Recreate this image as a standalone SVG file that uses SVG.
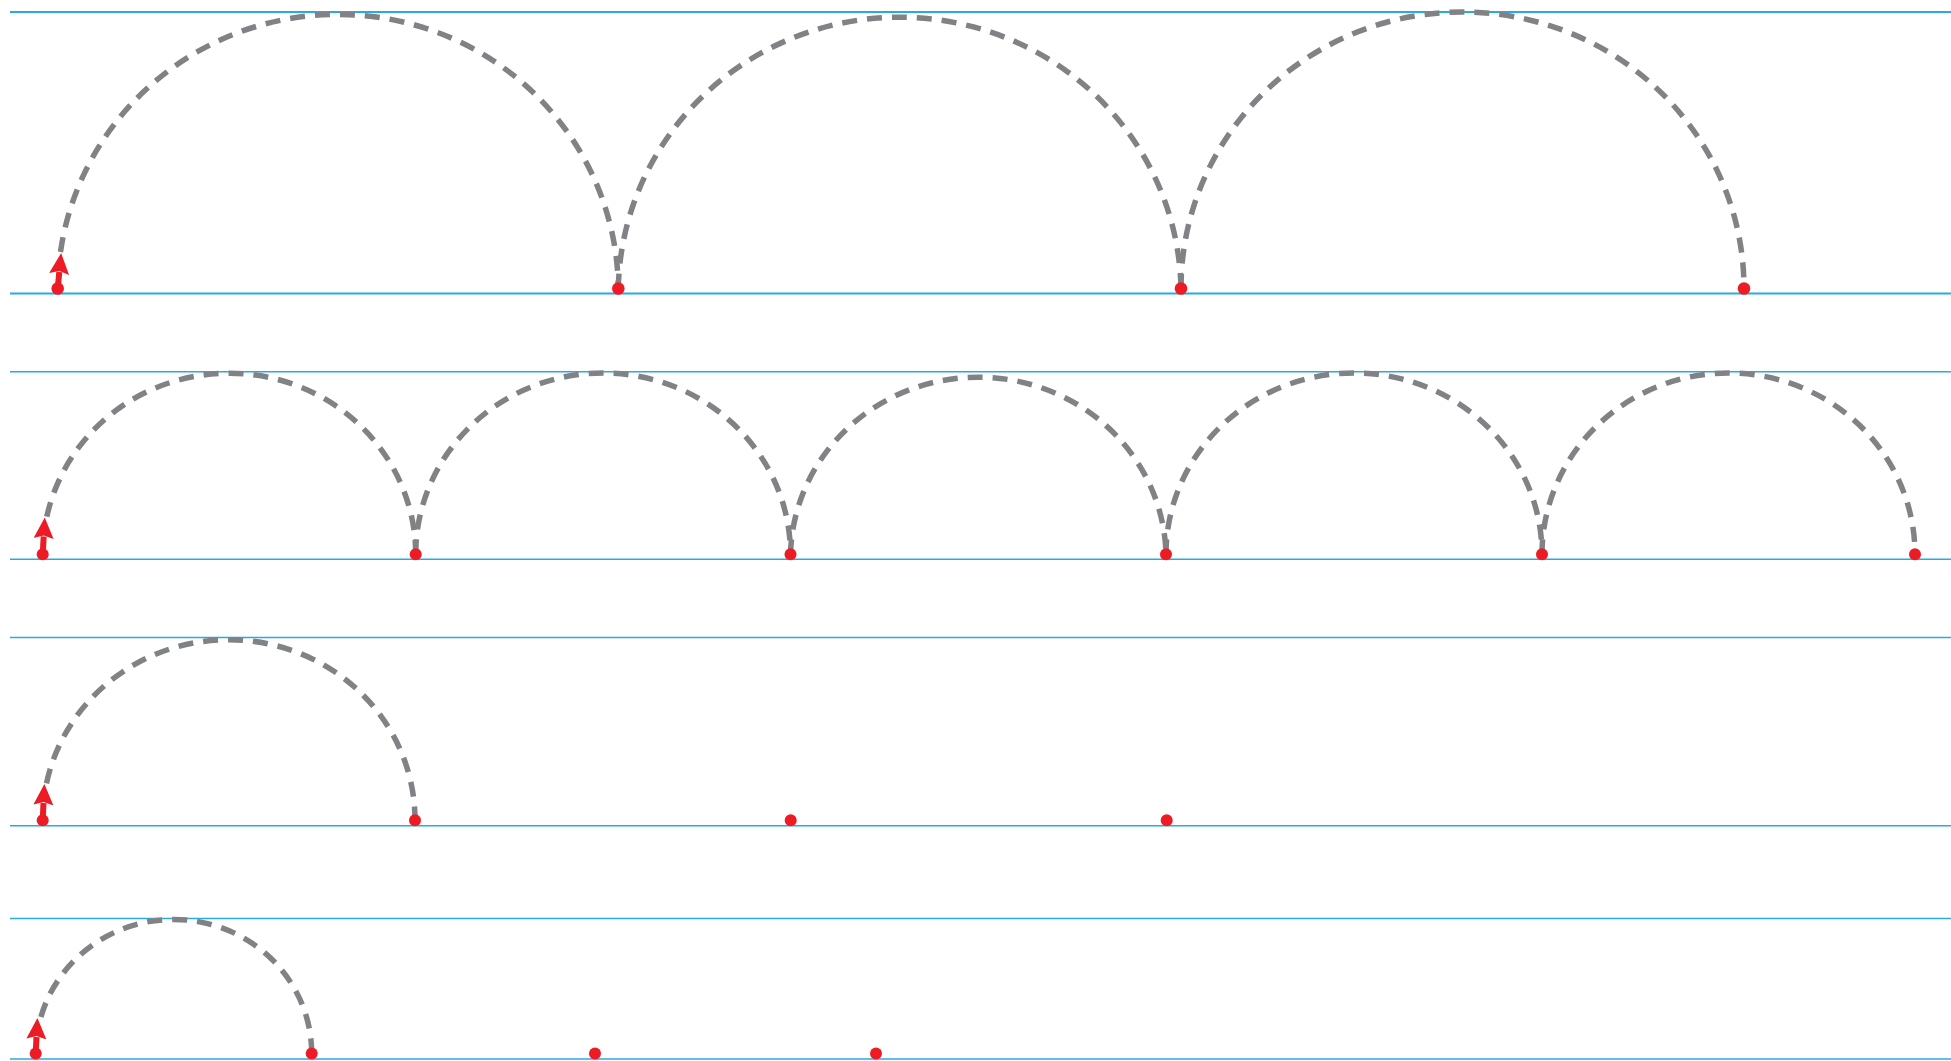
<svg xmlns="http://www.w3.org/2000/svg" width="1951" height="1061" viewBox="0 0 1951 1061">
  <style>
    .guide { stroke: #29ABE2; fill: none; }
    .arc { stroke: #808285; stroke-width: 5.5; fill: none; stroke-dasharray: 15 10; }
    .dot { fill: #ED1C24; }
    .shaft { stroke: #ED1C24; stroke-width: 6; fill: none; }
  </style>
  <defs>
    <marker id="head" markerUnits="userSpaceOnUse" viewBox="0 -10 21 20" refX="2" refY="0" markerWidth="21" markerHeight="20" orient="auto">
      <path d="M0,-10 L21,0 L0,10 L3,0 z" fill="#ED1C24"/>
    </marker>
  </defs>
  <rect width="1951" height="1061" fill="#FFFFFF"/>

  <g id="guides">
    <line class="guide" x1="10" y1="12" x2="1951" y2="12" stroke-width="2"/>
    <line class="guide" x1="10" y1="293.5" x2="1951" y2="293.5" stroke-width="2"/>
    <line class="guide" x1="10" y1="371.7" x2="1951" y2="371.7" stroke-width="1.5"/>
    <line class="guide" x1="10" y1="559.3" x2="1951" y2="559.3" stroke-width="1.5"/>
    <line class="guide" x1="10" y1="637.5" x2="1951" y2="637.5" stroke-width="1.5"/>
    <line class="guide" x1="10" y1="825.7" x2="1951" y2="825.7" stroke-width="1.5"/>
    <line class="guide" x1="10" y1="918.5" x2="1951" y2="918.5" stroke-width="1.5"/>
    <line class="guide" x1="10" y1="1059" x2="1951" y2="1059" stroke-width="1.5"/>
  </g>

  <g id="connectors">
    <path class="arc" d="M60.5,252 A280.3,276.5 0 0 1 618.3,288.5"/>
    <path class="arc" d="M618.3,288.5 A281.4,276.5 0 0 1 1181,288.5"/>
    <path class="arc" d="M1181,288.5 A281.5,276.5 0 0 1 1744,288.5"/>

    <path class="arc" d="M46.8,516.7 A186.5,181.3 0 0 1 415.7,554.3"/>
    <path class="arc" d="M415.7,554.3 A187.4,181.3 0 0 1 790.5,554.3"/>
    <path class="arc" d="M790.5,554.3 A187.8,181.3 0 0 1 1166,554.3"/>
    <path class="arc" d="M1166,554.3 A188,181.3 0 0 1 1542,554.3"/>
    <path class="arc" d="M1542,554.3 A186.5,181.3 0 0 1 1915,554.3"/>

    <path class="arc" d="M46.5,783.3 A186.2,180.3 0 0 1 415,820.3"/>

    <path class="arc" d="M40.9,1017 A138,134 0 0 1 311.7,1053.5"/>

    <line class="shaft" x1="57.7" y1="288.5" x2="59.3" y2="272" marker-end="url(#head)"/>
    <line class="shaft" x1="42.7" y1="554.3" x2="43.7" y2="536.5" marker-end="url(#head)"/>
    <line class="shaft" x1="42.7" y1="820.3" x2="43.5" y2="803" marker-end="url(#head)"/>
    <line class="shaft" x1="35.7" y1="1053.5" x2="36.5" y2="1037" marker-end="url(#head)"/>
  </g>

  <g id="row1-dots">
    <circle id="r1p1" class="dot" cx="57.7" cy="288.5" r="6.3"/>
    <circle id="r1p2" class="dot" cx="618.3" cy="288.5" r="6.3"/>
    <circle id="r1p3" class="dot" cx="1181" cy="288.5" r="6.3"/>
    <circle id="r1p4" class="dot" cx="1744" cy="288.5" r="6.3"/>
  </g>
  <g id="row2-dots">
    <circle id="r2p1" class="dot" cx="42.7" cy="554.3" r="6"/>
    <circle id="r2p2" class="dot" cx="415.7" cy="554.3" r="6"/>
    <circle id="r2p3" class="dot" cx="790.5" cy="554.3" r="6"/>
    <circle id="r2p4" class="dot" cx="1166" cy="554.3" r="6"/>
    <circle id="r2p5" class="dot" cx="1542" cy="554.3" r="6"/>
    <circle id="r2p6" class="dot" cx="1915" cy="554.3" r="6"/>
  </g>
  <g id="row3-dots">
    <circle id="r3p1" class="dot" cx="42.7" cy="820.3" r="6"/>
    <circle id="r3p2" class="dot" cx="415" cy="820.3" r="6"/>
    <circle id="r3p3" class="dot" cx="790.7" cy="820.3" r="6"/>
    <circle id="r3p4" class="dot" cx="1166.7" cy="820.3" r="6"/>
  </g>
  <g id="row4-dots">
    <circle id="r4p1" class="dot" cx="35.7" cy="1053.5" r="6"/>
    <circle id="r4p2" class="dot" cx="311.7" cy="1053.5" r="6"/>
    <circle id="r4p3" class="dot" cx="595" cy="1053.5" r="6"/>
    <circle id="r4p4" class="dot" cx="876" cy="1053.5" r="6"/>
  </g>
</svg>
